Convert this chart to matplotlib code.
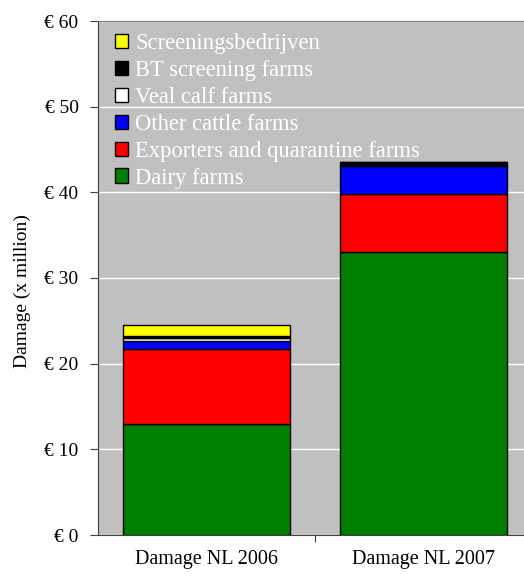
import matplotlib.pyplot as plt
import numpy as np

years = ["Damage NL 2006", "Damage NL 2007"]
series = ["Dairy farms", "Exporters and quarantine farms", "Other cattle farms",
          "Veal calf farms", "BT screening farms", "Screeningsbedrijven"]
dairy = [12.9, 33.0]
exporters = [8.8, 6.8]
other_cattle = [1.0, 3.3]
veal_calf = [0.25, 0.05]
bt_screening = [0.3, 0.35]
screening = [1.3, 0.05]
colors = ["#008000", "#ff0000", "#0000ff", "#ffffff", "#000000", "#ffff00"]
yticks = [0, 10, 20, 30, 40, 50, 60]

plt.rcParams['font.family'] = ['Liberation Serif', 'DejaVu Serif']

fig = plt.figure(figsize=(5.24, 5.76), dpi=100)
ax = fig.add_axes([98 / 524, 41 / 576, 434 / 524, 514 / 576])
ax.set_facecolor("#c0c0c0")

x = np.arange(len(years))
bottom = np.zeros(len(years))
values = [dairy, exporters, other_cattle, veal_calf, bt_screening, screening]
handles = []
for name, vals, col in zip(series, values, colors):
    b = ax.bar(x, vals, 0.77, bottom=bottom, color=col, edgecolor="black",
               linewidth=1, label=name, zorder=3)
    handles.append(b)
    bottom += np.array(vals)

ax.set_xlim(-0.5, 1.5)
ax.set_ylim(0, 60)
ax.set_yticks(yticks)
ax.set_yticklabels([f"€ {v}" for v in yticks], fontsize=14)
ax.yaxis.grid(True, color="white", linewidth=1, zorder=0)
ax.set_xticks([0.5])
ax.set_xticklabels([""])
ax.tick_params(axis="x", length=5, direction="out", color="#404040")
ax.tick_params(axis="y", length=6, direction="out", color="#404040", pad=8)
for i, lab in enumerate(years):
    ax.text(i, -2.85, lab, ha="center", va="center", fontsize=14.5)
ax.set_ylabel("Damage (x million)", fontsize=14)
ax.yaxis.set_label_coords(-0.155, 0.475)

for s in ["left", "bottom"]:
    ax.spines[s].set_color("#404040")
ax.spines["top"].set_color("#808080")
ax.spines["right"].set_visible(False)

leg = ax.legend(handles[::-1], series[::-1], loc="upper left", frameon=False,
                fontsize=16.3, labelcolor="white", handlelength=0.6,
                handleheight=0.6, handletextpad=0.3, labelspacing=0.26,
                borderaxespad=0.0, bbox_to_anchor=(0.018, 0.994))

fig.savefig("out.png", dpi=100)
